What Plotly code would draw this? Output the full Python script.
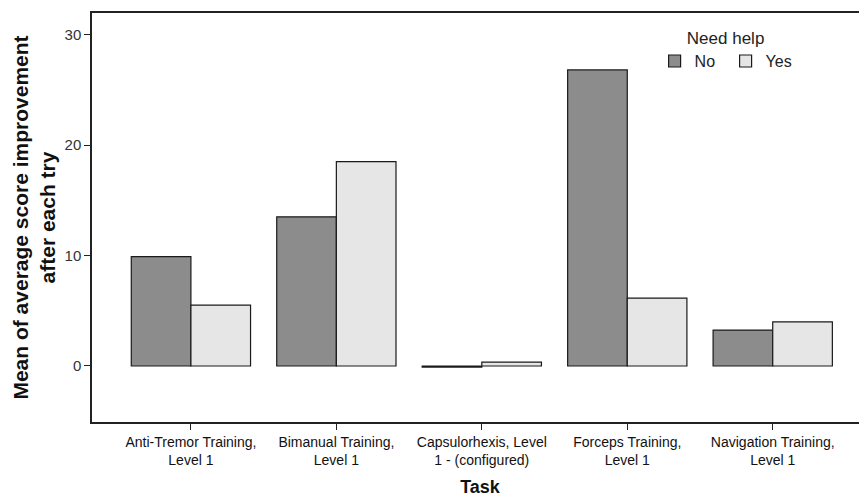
import plotly.graph_objects as go

tasks = ["Anti-Tremor Training,<br>Level 1", "Bimanual Training,<br>Level 1",
         "Capsulorhexis, Level<br>1 - (configured)", "Forceps Training,<br>Level 1",
         "Navigation Training,<br>Level 1"]
no_vals = [9.9, 13.5, -0.1, 26.8, 3.25]
yes_vals = [5.5, 18.5, 0.35, 6.15, 4.0]

fig = go.Figure()
fig.add_trace(go.Bar(x=list(range(5)), y=no_vals, name="No",
                     marker=dict(color="#8c8c8c", line=dict(color="#1a1a1a", width=1.2))))
fig.add_trace(go.Bar(x=list(range(5)), y=yes_vals, name="Yes",
                     marker=dict(color="#e6e6e6", line=dict(color="#1a1a1a", width=1.2))))

fig.update_layout(
    width=868, height=498,
    margin=dict(l=92, r=0, t=13, b=76, autoexpand=False),
    paper_bgcolor="white", plot_bgcolor="white",
    barmode="group", bargap=0.18, bargroupgap=0,
    font=dict(family="Liberation Sans, Arial, sans-serif", color="#222222", size=13),
    legend=dict(title=dict(text="Need help", side="top center", font=dict(size=17)),
                orientation="h", x=0.725, y=0.978, xanchor="left", yanchor="top",
                font=dict(size=16), bgcolor="rgba(0,0,0,0)", traceorder="normal",
                itemwidth=30, entrywidth=26, tracegroupgap=0),
    showlegend=True,
)
fig.update_xaxes(
    tickmode="array", tickvals=list(range(5)), ticktext=tasks, automargin=False,
    range=[-0.68, 4.655], showline=True, mirror=True, linecolor="#222222", linewidth=1.5,
    ticks="outside", ticklen=6, tickcolor="#222222", showgrid=False, zeroline=False,
    tickfont=dict(size=14, color="#111111"),
    title=dict(text="<b>Task</b>", font=dict(size=18, color="#111111"), standoff=14),
)
fig.update_yaxes(
    range=[-5.07, 31.95], tickvals=[0, 10, 20, 30], showline=True, linecolor="#222222",
    linewidth=1.5, ticks="outside", ticklen=6, tickcolor="#222222", showgrid=False,
    zeroline=False, tickfont=dict(size=15, color="#333333"), automargin=False,
    title=dict(text="<b>Mean of average score improvement<br>after each try</b>",
               font=dict(size=21, color="#111111"), standoff=3),
)

fig.write_html("out.html", config={"displayModeBar": False},
               post_script="document.body.style.margin='0px';document.body.style.overflow='hidden';document.documentElement.style.overflow='hidden';")
